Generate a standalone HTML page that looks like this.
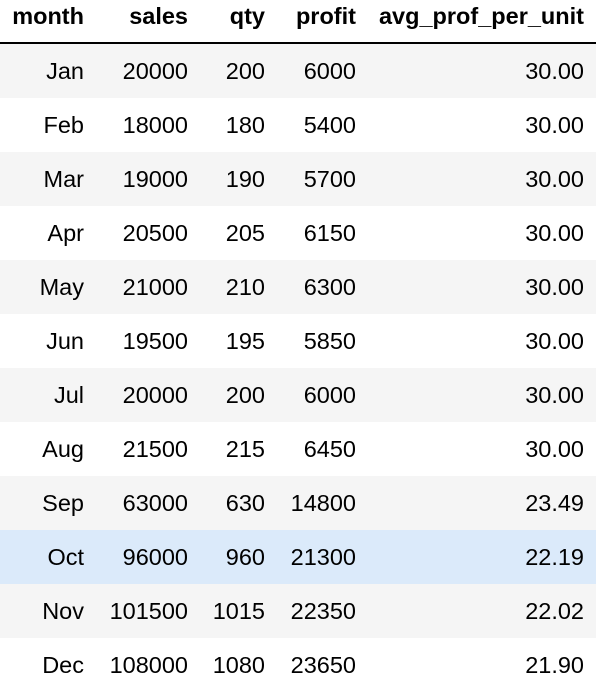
<!DOCTYPE html>
<html><head><meta charset="utf-8"><style>
body{margin:0;background:#fff;width:598px;height:698px;overflow:hidden;font-family:"Liberation Sans",Arial,sans-serif;}
table{position:absolute;left:0;top:0;border-collapse:collapse;width:596px;font-size:23.5px;color:#000;}
th{height:43px;font-weight:bold;text-align:right;padding:0;border-bottom:2px solid #000;vertical-align:middle;line-height:22px;padding-bottom:10px;box-sizing:border-box;}
td{height:54px;text-align:right;padding:0;}
tr.g td{background:#f5f5f5;}
tr.h td{background:#dbeafa;}
</style></head><body>
<table>
<colgroup><col style="width:84px"><col style="width:104px"><col style="width:77px"><col style="width:91px"><col style="width:228px"><col style="width:12px"></colgroup>
<thead><tr>
<th>month</th>
<th>sales</th>
<th>qty</th>
<th>profit</th>
<th>avg_prof_per_unit</th><th></th></tr></thead>
<tbody id="tb"></tbody></table>
<script>
const months=["Jan","Feb","Mar","Apr","May","Jun","Jul","Aug","Sep","Oct","Nov","Dec"];
const sales=[20000,18000,19000,20500,21000,19500,20000,21500,63000,96000,101500,108000];
const qty=[200,180,190,205,210,195,200,215,630,960,1015,1080];
const profit=[6000,5400,5700,6150,6300,5850,6000,6450,14800,21300,22350,23650];
const avg=["30.00","30.00","30.00","30.00","30.00","30.00","30.00","30.00","23.49","22.19","22.02","21.90"];
const tb=document.getElementById('tb');
months.forEach((m,i)=>{
 const tr=document.createElement('tr');
 
 
 tr.className=i===9?'h':(i%2===0?'g':'');
 [m,sales[i],qty[i],profit[i],avg[i],''].forEach((v,j)=>{
  const td=document.createElement('td');
  
  
  td.textContent=v;tr.appendChild(td);
 });
 tb.appendChild(tr);
});
</script>
</body></html>
